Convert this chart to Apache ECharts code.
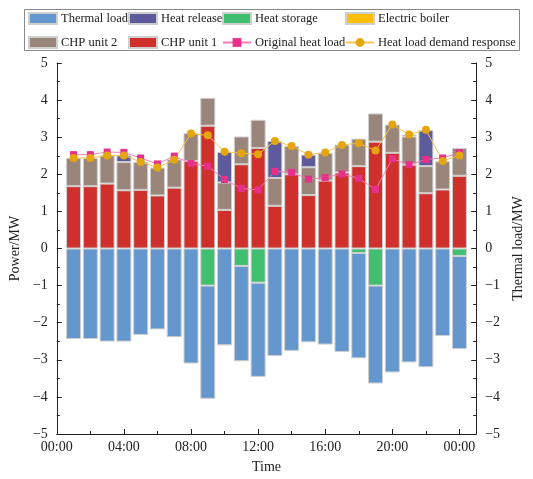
<!DOCTYPE html>
<html>
<head>
<meta charset="utf-8">
<script src="https://cdn.jsdelivr.net/npm/echarts@6/dist/echarts.min.js"></script>
<style>
html,body{margin:0;padding:0;background:#fff;}
#main{width:533px;height:479px;}
</style>
</head>
<body>
<div id="main"></div>
<script>
// 时间轴 0~25h, 柱中心在 1~24h
var hours = [0,1,2,3,4,5,6,7,8,9,10,11,12,13,14,15,16,17,18,19,20,21,22,23,24,25];
// 供热 (正向), 1~24h
var chp1 = [1.68,1.68,1.75,1.57,1.58,1.43,1.64,2.36,3.31,1.04,2.27,2.71,1.15,2.00,1.44,1.83,2.05,2.22,2.88,2.58,2.26,1.49,1.59,1.96];
var chp2 = [0.76,0.76,0.76,0.76,0.75,0.75,0.76,0.75,0.75,0.74,0.75,0.76,0.75,0.76,0.75,0.75,0.75,0.74,0.76,0.76,0.76,0.73,0.76,0.75];
var heatRelease = [null,null,null,0.18,null,null,null,null,null,0.82,null,null,1.00,null,0.34,null,null,null,null,null,0.05,0.97,null,null];
var electricBoiler = [null,null,null,null,null,null,null,null,null,null,null,null,null,null,null,null,null,null,null,null,null,null,null,null];
// 用热 (负向)
var heatStorage = [null,null,null,null,null,null,null,null,-1.00,null,-0.47,-0.92,null,null,null,null,null,-0.12,-1.00,null,null,null,null,-0.20];
var thermalLoad = [-2.44,-2.44,-2.51,-2.51,-2.33,-2.18,-2.39,-3.10,-3.05,-2.61,-2.57,-2.54,-2.90,-2.76,-2.53,-2.59,-2.79,-2.84,-2.64,-3.34,-3.07,-3.20,-2.36,-2.51];
// 负荷曲线
var originalLoad = [2.53,2.53,2.60,2.59,2.44,2.28,2.49,2.29,2.22,1.86,1.62,1.58,2.08,2.05,1.87,1.91,2.01,1.89,1.59,2.42,2.26,2.40,2.44,2.58];
var responseLoad = [2.44,2.44,2.51,2.51,2.33,2.18,2.39,3.10,3.05,2.61,2.57,2.54,2.90,2.76,2.53,2.59,2.79,2.84,2.64,3.34,3.07,3.20,2.36,2.51];

var font = 'Liberation Serif';
var ink = '#222';

// 首尾补空 (0h, 25h 没有柱)
function pad(arr) {
    return [null].concat(arr).concat([null]);
}

function bar(name, color, data) {
    return {
        name: name,
        type: 'bar',
        stack: 'heat',
        barWidth: 15,
        itemStyle: { color: color, borderColor: '#cfcfcf', borderWidth: 1 },
        data: pad(data)
    };
}

function yaxis(name, pos) {
    return {
        type: 'value',
        position: pos,
        min: -5, max: 5, interval: 1,
        name: name,
        nameLocation: 'middle',
        nameRotate: 90,
        nameGap: pos == 'left' ? 20 : 33,
        nameTextStyle: { fontFamily: font, fontSize: 14, color: ink },
        axisLine: { show: true, lineStyle: { color: ink, width: 1 } },
        axisTick: { show: true, inside: true, length: 5, lineStyle: { color: ink } },
        minorTick: { show: true, splitNumber: 2, length: 3, lineStyle: { color: ink } },
        splitLine: { show: false },
        axisLabel: {
            fontFamily: font, fontSize: 14, color: ink, margin: 9,
            formatter: function(v) { return v < 0 ? '\u2212' + (-v) : '' + v; }
        }
    };
}

function xaxis(tickEvery, tickLen, labels) {
    return {
        type: 'category',
        data: hours,
        boundaryGap: false,
        position: 'bottom',
        name: labels ? 'Time' : '',
        nameLocation: 'middle',
        nameGap: 26,
        nameTextStyle: { fontFamily: font, fontSize: 14, color: ink },
        axisLine: { show: labels, onZero: false, lineStyle: { color: ink, width: 1 } },
        axisTick: {
            show: true, inside: true, length: tickLen, lineStyle: { color: ink },
            interval: function(i) { return i % tickEvery == 0 && i <= 24; }
        },
        splitLine: { show: false },
        axisLabel: {
            show: labels,
            fontFamily: font, fontSize: 14, color: ink, margin: 6,
            interval: function(i) { return i % 4 == 0 && i <= 24; },
            formatter: function(v) {
                var h = v % 24;
                return (h < 10 ? '0' + h : h) + ':00';
            }
        }
    };
}

function legendCol(left, items) {
    return {
        orient: 'vertical',
        left: left,
        top: 12,
        itemWidth: 28,
        itemHeight: 11,
        itemGap: 11,
        padding: 0,
        textStyle: { fontFamily: font, fontSize: 12.5, color: ink, padding: [0, 0, 0, -1] },
        data: items
    };
}

var myChart = echarts.init(document.getElementById('main'));
var option = {
    animation: false,
    legend: [
        legendCol(28, [{ name: 'Thermal load', icon: 'rect' }, { name: 'CHP unit 2', icon: 'rect' }]),
        legendCol(128, [{ name: 'Heat release', icon: 'rect' }, { name: 'CHP unit 1', icon: 'rect' }]),
        legendCol(222, [{ name: 'Heat storage', icon: 'rect' }, { name: 'Original heat load' }]),
        legendCol(345, [{ name: 'Electric boiler', icon: 'rect' }, { name: 'Heat load demand response' }])
    ],
    graphic: [{
        type: 'rect',
        shape: { x: 24.5, y: 9.5, width: 495, height: 41 },
        style: { fill: 'none', stroke: '#888', lineWidth: 1 },
        silent: true
    }],
    grid: { left: 50, right: 43, top: 63, bottom: 41 },
    xAxis: [xaxis(4, 5, true), xaxis(2, 3, false)],
    yAxis: [yaxis('Power/MW', 'left'), yaxis('Thermal load/MW', 'right')],
    series: [
        bar('CHP unit 1', '#cf302c', chp1),
        bar('CHP unit 2', '#9a857a', chp2),
        bar('Heat release', '#5e5b9c', heatRelease),
        bar('Electric boiler', '#fbbf0a', electricBoiler),
        bar('Heat storage', '#3fbf6f', heatStorage),
        bar('Thermal load', '#6497cd', thermalLoad),
        {
            name: 'Original heat load',
            type: 'line',
            yAxisIndex: 1,
            symbol: 'rect',
            symbolSize: 7,
            itemStyle: { color: '#e6308a' },
            lineStyle: { color: '#ee7fb8', width: 1 },
            data: pad(originalLoad)
        },
        {
            name: 'Heat load demand response',
            type: 'line',
            yAxisIndex: 1,
            symbol: 'circle',
            symbolSize: 8,
            itemStyle: { color: '#e5a50f' },
            lineStyle: { color: '#f0c550', width: 1 },
            data: pad(responseLoad)
        }
    ]
};
myChart.setOption(option);
</script>
</body>
</html>
